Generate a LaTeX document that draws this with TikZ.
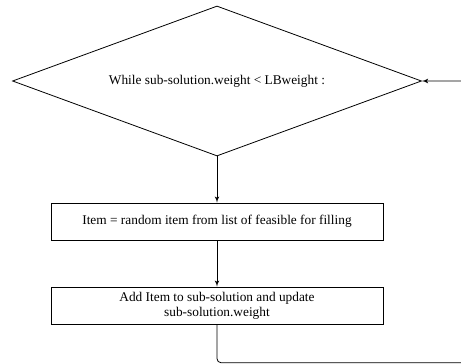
\documentclass[tikz,border=0pt]{standalone}
\usepackage{fontspec}
\setmainfont{Liberation Serif}
\usetikzlibrary{shapes,arrows}

\begin{document}
\begin{tikzpicture}[->,>=latex',x=0.75pt,y=0.75pt,semithick,font=\fontsize{10}{11}\selectfont]
\tikzstyle{decision}=[draw=black,diamond,aspect=2.727,inner sep=0pt,minimum width=306.75pt,minimum height=112.5pt]
\tikzstyle{stepbox}=[draw=black,rectangle,inner sep=0pt,minimum width=249pt,minimum height=27.75pt,align=center]
\useasboundingbox (0,0) rectangle (461,-364);
\node[decision] (loop) at (217,-81) {While sub-solution.weight < LBweight :};
\node[stepbox][below of=loop,node distance=105.4pt](pick){Item = random item from list of feasible for filling};
\node[stepbox][below of=pick,node distance=63pt](add){Add Item to sub-solution and update\\sub-solution.weight};
\coordinate (ret) at (470,-362.7);
\path (loop)edge(pick)
      (pick)edge(add);
\draw[rounded corners=3pt] (add.south) |- (ret) |- (loop.east);
\end{tikzpicture}
\end{document}
